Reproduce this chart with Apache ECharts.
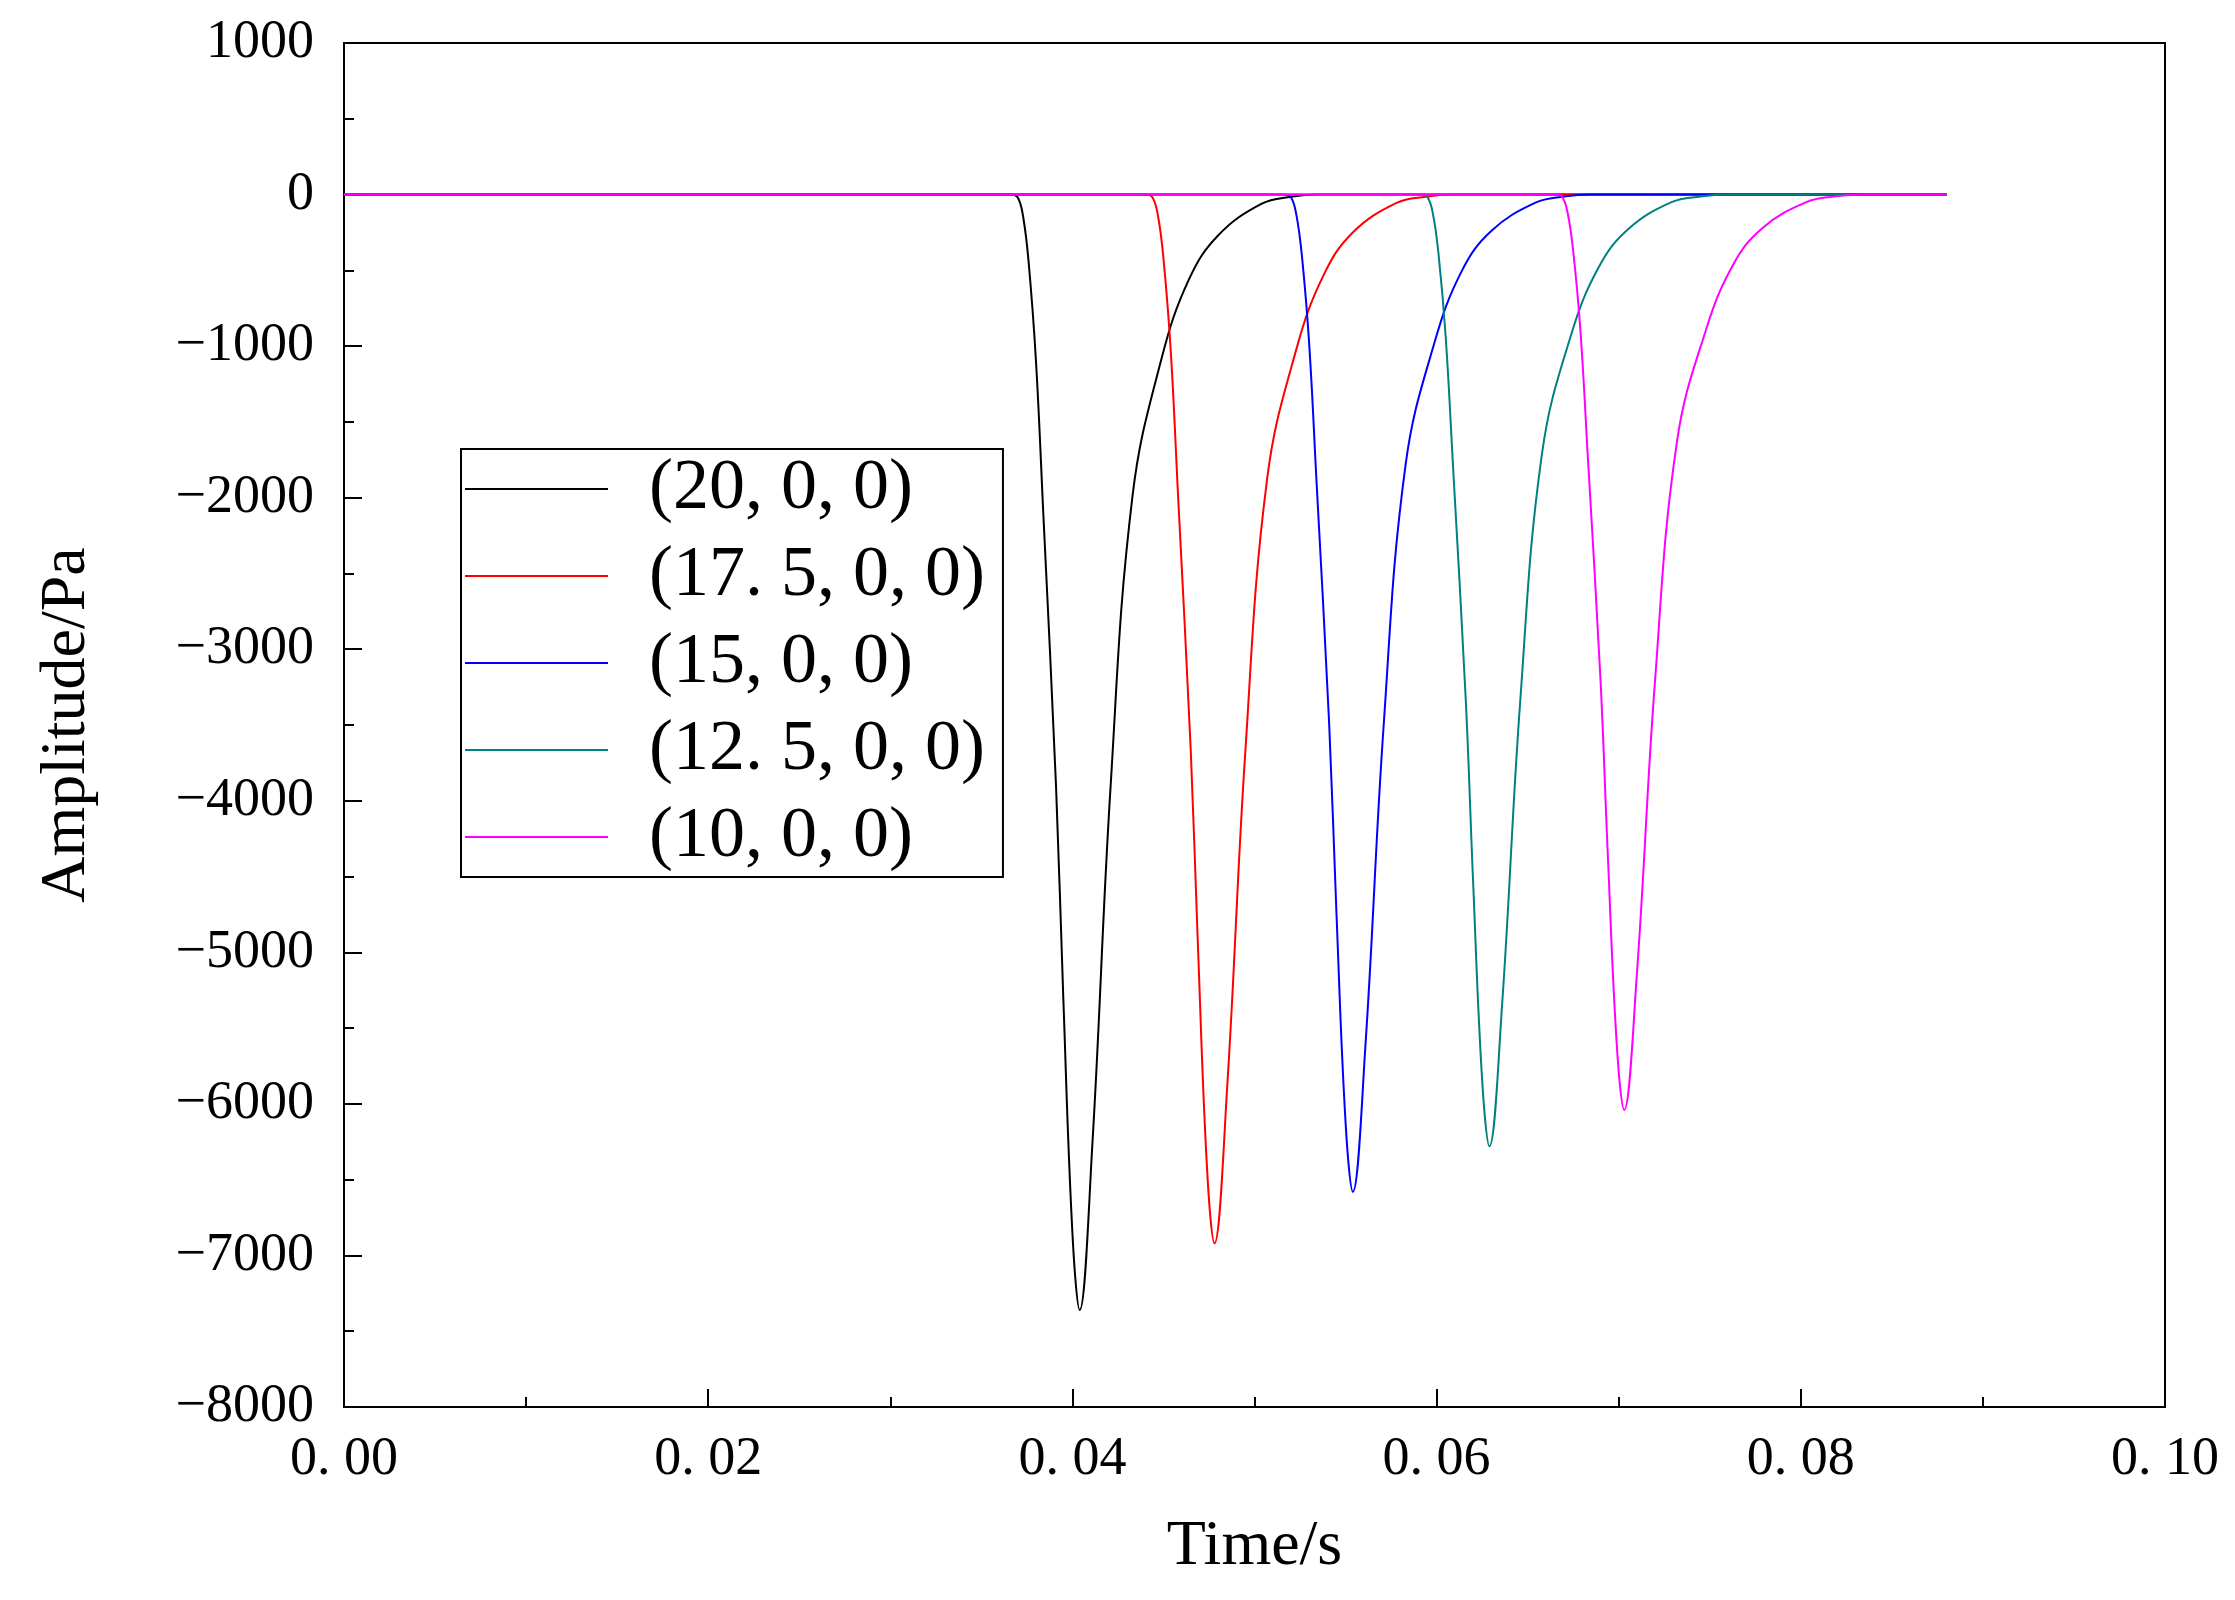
<!DOCTYPE html>
<html>
<head>
  <meta charset="UTF-8" />
  <title></title>
  <style type="text/css">
    * { margin: 0; padding: 0; }
    #main { width: 2235px; height: 1600px; background: #fff; }
  </style>
</head>
<body>
  <div id="main"></div>
</body>
<script src="https://cdn.jsdelivr.net/npm/echarts@6/dist/echarts.min.js"></script>
<script type="text/javascript">
  // 图例名称
  const names = ['(20, 0, 0)', '(17. 5, 0, 0)', '(15, 0, 0)', '(12. 5, 0, 0)', '(10, 0, 0)']
  const colors = ['#000000', '#ff0000', '#0000ff', '#008080', '#ff00ff']

  // [时间, 幅值]
  const s20 = [[0, 0], [0.0366, 0], [0.0370, -20], [0.0373, -150], [0.0376, -450], [0.0380, -1100], [0.0384, -2100], [0.0391, -3900], [0.0395, -5300], [0.0400, -6850], [0.0404, -7360], [0.0411, -6260], [0.0421, -3900], [0.0433, -1990], [0.0449, -1080], [0.0464, -560], [0.0480, -270], [0.0504, -60], [0.0520, -15], [0.0535, 0], [0.088, 0]]
  const s175 = [[0, 0], [0.0440, 0], [0.0444, -19], [0.0447, -140], [0.0450, -420], [0.0454, -1030], [0.0458, -1980], [0.0465, -3670], [0.0469, -4980], [0.0474, -6440], [0.0478, -6920], [0.0485, -5890], [0.0495, -3670], [0.0507, -1870], [0.0523, -1020], [0.0538, -530], [0.0554, -250], [0.0578, -55], [0.0594, -14], [0.0609, 0], [0.088, 0]]
  const s15 = [[0, 0], [0.0516, 0], [0.0520, -18], [0.0523, -134], [0.0526, -400], [0.0530, -980], [0.0534, -1880], [0.0541, -3490], [0.0545, -4740], [0.0550, -6120], [0.0554, -6580], [0.0561, -5600], [0.0571, -3490], [0.0583, -1780], [0.0599, -970], [0.0614, -500], [0.0630, -240], [0.0654, -55], [0.0670, -13], [0.0685, 0], [0.088, 0]]
  const s125 = [[0, 0], [0.0591, 0], [0.0595, -17], [0.0598, -128], [0.0601, -385], [0.0605, -940], [0.0609, -1790], [0.0616, -3330], [0.0620, -4520], [0.0625, -5840], [0.0629, -6280], [0.0636, -5340], [0.0646, -3330], [0.0658, -1700], [0.0674, -920], [0.0689, -480], [0.0705, -230], [0.0729, -50], [0.0745, -13], [0.0760, 0], [0.088, 0]]
  const s10 = [[0, 0], [0.0665, 0], [0.0669, -16], [0.0672, -123], [0.0675, -370], [0.0679, -900], [0.0683, -1720], [0.0690, -3200], [0.0694, -4350], [0.0699, -5620], [0.0703, -6040], [0.0710, -5140], [0.0720, -3200], [0.0732, -1630], [0.0748, -890], [0.0763, -460], [0.0779, -220], [0.0803, -50], [0.0819, -12], [0.0834, 0], [0.088, 0]]
  const seriesData = [s20, s175, s15, s125, s10]

  const font = '"Liberation Serif", "DejaVu Serif", serif'
  let myChart = echarts.init(document.getElementById('main'))

  let option = {
    backgroundColor: '#fff',
    animation: false,
    grid: { left: 344, right: 70, top: 43, bottom: 193, show: true, borderColor: '#000', borderWidth: 2 },
    legend: {
      left: 461, top: 449, orient: 'vertical',
      padding: [4, 18, 4, 4],
      borderColor: '#000', borderWidth: 2,
      itemWidth: 143, itemHeight: 2, itemGap: 15,
      icon: 'rect',
      textStyle: { fontFamily: font, fontSize: 72, lineHeight: 64, color: '#000', padding: [0, 0, 0, 36] },
      data: names
    },
    xAxis: {
      type: 'value', min: 0, max: 0.1, interval: 0.02,
      name: 'Time/s', nameLocation: 'middle', nameGap: 108,
      nameTextStyle: { fontFamily: font, fontSize: 64, color: '#000' },
      axisLine: { onZero: false, lineStyle: { color: '#000', width: 2 } },
      axisTick: { inside: true, length: 18, lineStyle: { color: '#000', width: 2 } },
      minorTick: { show: true, splitNumber: 2, length: 10, lineStyle: { color: '#000', width: 2 } },
      splitLine: { show: false },
      axisLabel: { fontFamily: font, fontSize: 54, color: '#000', margin: 26, formatter: v => v.toFixed(2).replace('.', '. ') }
    },
    yAxis: {
      type: 'value', min: -8000, max: 1000, interval: 1000,
      name: 'Amplitude/Pa', nameLocation: 'middle', nameGap: 245,
      nameTextStyle: { fontFamily: font, fontSize: 64, color: '#000' },
      axisLine: { lineStyle: { color: '#000', width: 2 } },
      axisTick: { inside: true, length: 18, lineStyle: { color: '#000', width: 2 } },
      minorTick: { show: true, splitNumber: 2, length: 10, lineStyle: { color: '#000', width: 2 } },
      splitLine: { show: false },
      axisLabel: { fontFamily: font, fontSize: 54, color: '#000', margin: 30, formatter: v => String(v).replace('-', '−') }
    },
    series: names.map((n, i) => ({
      name: n, type: 'line', data: seriesData[i], smooth: 0.4, showSymbol: false,
      color: colors[i], lineStyle: { width: 2, color: colors[i] }
    }))
  }
  myChart.setOption(option)
</script>
</html>
